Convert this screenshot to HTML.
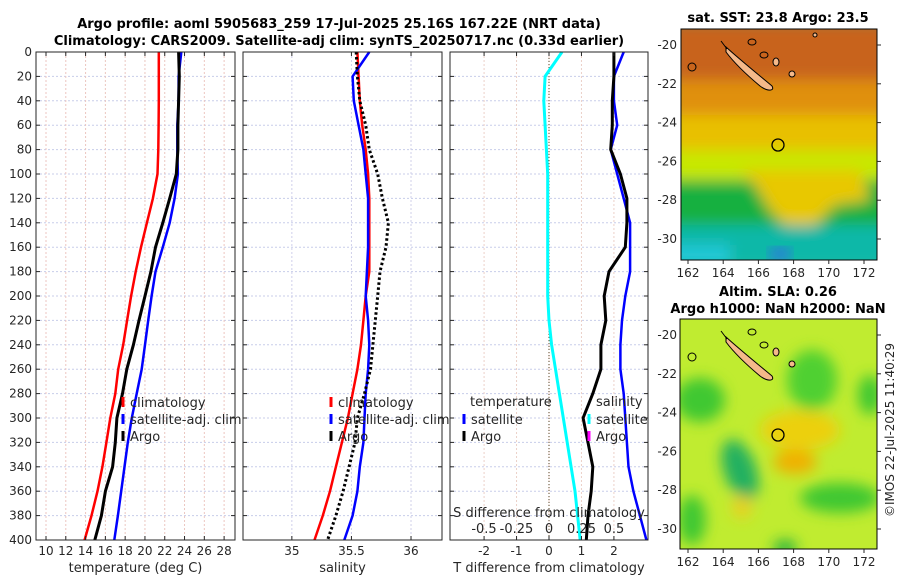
<!DOCTYPE html>
<html><head><meta charset="utf-8"><style>
html,body{margin:0;padding:0;background:#fff;}
svg{display:block;font-family:"DejaVu Sans","Liberation Sans",sans-serif;}
.t{font-size:12px;fill:#262626;}
.b{font-size:13px;font-weight:bold;fill:#000;}
</style></head><body>
<svg id="fig" width="900" height="580" viewBox="0 0 900 580" xmlns="http://www.w3.org/2000/svg">
<defs>
<filter id="bl" x="-20%" y="-20%" width="140%" height="140%"><feGaussianBlur stdDeviation="7"/></filter>
<clipPath id="c1"><rect x="681" y="29" width="196" height="231"/></clipPath>
<clipPath id="c2"><rect x="680" y="319" width="197" height="230"/></clipPath>
</defs>
<text class="b" x="339" y="28" text-anchor="middle">Argo profile: aoml 5905683_259 17-Jul-2025 25.16S 167.22E (NRT data)</text>
<text class="b" x="339" y="45" text-anchor="middle">Climatology: CARS2009. Satellite-adj clim: synTS_20250717.nc (0.33d earlier)</text>

<g id="plots"></g>

<!-- Map 1 -->
<g>
<g clip-path="url(#c1)">
<rect x="681" y="29" width="196" height="231" fill="#20c0a0"/>
<g filter="url(#bl)">
<rect x="670" y="20" width="220" height="70" fill="#c8641e"/>
<rect x="670" y="80" width="220" height="40" fill="#e0900c"/>
<rect x="670" y="115" width="220" height="40" fill="#e8c000"/>
<rect x="670" y="150" width="220" height="35" fill="#c8e800"/>
<rect x="670" y="180" width="220" height="50" fill="#18b040"/>
<path d="M740 170 L860 170 L870 200 L835 205 L815 225 L790 230 L770 210 L755 185 Z" fill="#e8c800"/>
<rect x="670" y="225" width="220" height="40" fill="#10b8a8"/>
<rect x="670" y="245" width="60" height="20" fill="#20c8d8"/>
</g>
<rect x="770" y="248" width="20" height="12" fill="#3070e0" filter="url(#bl)"/>
</g>
<rect x="681" y="29" width="196" height="231" fill="none" stroke="#000" stroke-width="1"/>
<path d="M721 41 L727 49 M726 47 C738 58 760 76 772 86 C775 91 768 92 760 86 C748 76 735 64 726 52 Z" fill="#f5b98a" stroke="#000" stroke-width="1"/>
<ellipse cx="752" cy="42" rx="4" ry="3" fill="none" stroke="#000"/>
<ellipse cx="764" cy="55" rx="4" ry="3" fill="none" stroke="#000"/>
<ellipse cx="776" cy="62" rx="3" ry="4" fill="#f5b98a" stroke="#000"/>
<ellipse cx="692" cy="67" rx="4" ry="4" fill="none" stroke="#000"/>
<ellipse cx="792" cy="74" rx="3" ry="3" fill="#f5b98a" stroke="#000"/>
<ellipse cx="815" cy="35" rx="2" ry="2" fill="#f5b98a" stroke="#000"/>
<circle cx="778" cy="145" r="6" fill="none" stroke="#000" stroke-width="1.3"/>
</g>
<text class="b" x="778" y="22" text-anchor="middle">sat. SST: 23.8 Argo: 23.5</text>

<!-- Map 2 -->
<g>
<g clip-path="url(#c2)">
<rect x="680" y="319" width="197" height="230" fill="#c0ec30"/>
<g filter="url(#bl)">
<ellipse cx="700" cy="400" rx="25" ry="22" fill="#40c830"/>
<ellipse cx="812" cy="380" rx="25" ry="30" fill="#50d030"/>
<ellipse cx="870" cy="395" rx="12" ry="20" fill="#40c830"/>
<ellipse cx="740" cy="470" rx="16" ry="32" fill="#20b060" transform="rotate(-20 740 470)"/>
<ellipse cx="840" cy="498" rx="40" ry="15" fill="#40c830"/>
<ellipse cx="692" cy="520" rx="14" ry="25" fill="#40c830"/>
<ellipse cx="785" cy="548" rx="12" ry="8" fill="#20b040"/>
<ellipse cx="800" cy="430" rx="40" ry="20" fill="#ecd010"/>
<ellipse cx="795" cy="462" rx="22" ry="12" fill="#f0b000"/>
<ellipse cx="742" cy="507" rx="10" ry="12" fill="#e8d020"/>
</g>
</g>
<rect x="680" y="319" width="197" height="230" fill="none" stroke="#000" stroke-width="1"/>
<path d="M721 331 L727 339 M726 337 C738 348 760 366 772 376 C775 381 768 382 760 376 C748 366 735 354 726 342 Z" fill="#f5b98a" stroke="#000" stroke-width="1"/>
<ellipse cx="752" cy="332" rx="4" ry="3" fill="none" stroke="#000"/>
<ellipse cx="764" cy="345" rx="4" ry="3" fill="none" stroke="#000"/>
<ellipse cx="776" cy="352" rx="3" ry="4" fill="#f5b98a" stroke="#000"/>
<ellipse cx="692" cy="357" rx="4" ry="4" fill="none" stroke="#000"/>
<ellipse cx="792" cy="364" rx="3" ry="3" fill="#f5b98a" stroke="#000"/>
<circle cx="778" cy="435" r="6" fill="none" stroke="#000" stroke-width="1.3"/>
</g>
<text class="b" x="778" y="296" text-anchor="middle">Altim. SLA: 0.26</text>
<text class="b" x="778" y="313" text-anchor="middle">Argo h1000: NaN h2000: NaN</text>
<text class="t" x="0" y="0" text-anchor="middle" transform="translate(894 430) rotate(-90)">©IMOS 22-Jul-2025 11:40:29</text>
<g id="maptix"></g>
</svg>
<script>
// depth levels
const depths = [0,20,40,60,80,100,120,140,160,180,200,220,240,260,280,300,320,340,360,380,400];
// temperature (deg C)
const tempClim = [21.4,21.4,21.4,21.38,21.35,21.27,20.8,20.2,19.6,19.07,18.6,18.2,17.8,17.3,17.0,16.5,16.1,15.7,15.2,14.6,13.9];
const tempSat  = [23.67,23.4,23.4,23.27,23.27,23.33,23.0,22.5,21.8,21.07,20.67,20.33,20.0,19.67,19.17,18.67,18.27,17.93,17.6,17.27,16.9];
const tempArgo = [23.4,23.47,23.4,23.33,23.33,23.17,22.5,21.8,21.07,20.6,20.0,19.4,18.83,18.17,17.73,17.17,17.0,16.73,16.0,15.6,14.93];
// salinity
const salClim = [35.55,35.56,35.57,35.59,35.62,35.64,35.65,35.65,35.65,35.65,35.62,35.60,35.58,35.55,35.51,35.47,35.42,35.37,35.32,35.26,35.19];
const salSat  = [35.65,35.51,35.52,35.56,35.60,35.62,35.64,35.64,35.64,35.63,35.62,35.64,35.65,35.64,35.62,35.61,35.60,35.57,35.55,35.51,35.44];
const salArgo = [35.54,35.55,35.57,35.62,35.65,35.72,35.76,35.81,35.79,35.74,35.72,35.70,35.68,35.66,35.61,35.55,35.53,35.48,35.43,35.37,35.30];
// differences
const tDiffSat  = [2.3,2.0,2.0,2.1,1.9,2.1,2.3,2.5,2.5,2.5,2.35,2.25,2.2,2.2,2.3,2.35,2.4,2.45,2.6,2.8,3.0];
const tDiffArgo = [2.0,2.0,1.95,1.95,1.9,2.2,2.4,2.4,2.35,1.85,1.7,1.75,1.6,1.6,1.35,1.05,1.2,1.35,1.3,1.2,1.15];
const sDiffSat  = [0.1,-0.03,-0.04,-0.03,-0.02,-0.01,-0.01,-0.01,-0.01,-0.01,-0.01,0.0,0.02,0.05,0.08,0.11,0.14,0.17,0.2,0.22,0.24];
// ticks
const depthTicks = [0,20,40,60,80,100,120,140,160,180,200,220,240,260,280,300,320,340,360,380,400];
const tempTicks = [10,12,14,16,18,20,22,24,26,28];
const salTicks = [35,35.5,36];
const tdTicks = [-2,-1,0,1,2];
const sdTicks = [-0.5,-0.25,0,0.25,0.5];
const lonTicks = [162,164,166,168,170,172];
const latTicks = [-20,-22,-24,-26,-28,-30];

const NS='http://www.w3.org/2000/svg';
const g=document.getElementById('plots');
function mk(tag,at,parent){const e=document.createElementNS(NS,tag);for(const k in at)e.setAttribute(k,at[k]);(parent||g).appendChild(e);return e;}
const yTop=52,yBot=540;
const yD=d=>yTop+(yBot-yTop)*d/400;
const panels=[
 {x0:36,x1:235,min:8.99,max:29.1},
 {x0:243,x1:442,min:34.59,max:36.26},
 {x0:450,x1:648,min:-3.05,max:3.05}
];
const sx=(p,v)=>p.x0+(p.x1-p.x0)*(v-p.min)/(p.max-p.min);
const sScale=v=>549+130*v;

function grid(p,ticks,vcol){
  depthTicks.forEach(d=>{const l=mk('line',{x1:p.x0,x2:p.x1,y1:yD(d),y2:yD(d),stroke:'#c8cdea','stroke-dasharray':'2,2','stroke-width':1});
    });
  ticks.forEach(t=>{const x=sx(p,t);const l=mk('line',{x1:x,x2:x,y1:yTop,y2:yBot,stroke:vcol,'stroke-dasharray':'2,2','stroke-width':1});
    });
}
function frame(p,ticks,labels,title,name){
  const r=mk('rect',{x:p.x0,y:yTop,width:p.x1-p.x0,height:yBot-yTop,fill:'none',stroke:'#262626','stroke-width':1});
  
  depthTicks.forEach(d=>{mk('line',{x1:p.x0,x2:p.x0+4,y1:yD(d),y2:yD(d),stroke:'#262626'});mk('line',{x1:p.x1,x2:p.x1-4,y1:yD(d),y2:yD(d),stroke:'#262626'});});
  ticks.forEach((t,i)=>{const x=sx(p,t);mk('line',{x1:x,x2:x,y1:yBot,y2:yBot-4,stroke:'#262626'});mk('line',{x1:x,x2:x,y1:yTop,y2:yTop+4,stroke:'#262626'});
    if(labels){const tx=mk('text',{x:x,y:555,'text-anchor':'middle',class:'t'});tx.textContent=labels[i];
      }});
  const tt=mk('text',{x:(p.x0+p.x1)/2,y:572,'text-anchor':'middle',class:'t',style:'font-size:13px'});tt.textContent=title;
  
}
function line(xs,col,w,dash,name){
  const pts=depths.map((d,i)=>xs[i].toFixed(1)+','+yD(d).toFixed(1)).join(' ');
  const a={points:pts,fill:'none',stroke:col,'stroke-width':w,'stroke-linejoin':'round'};
  if(dash)a['stroke-dasharray']=dash;
  const l=mk('polyline',a);
  
  
}
function legend(x,y,col,txt){
  mk('line',{x1:x,x2:x,y1:y-9,y2:y+1,stroke:col,'stroke-width':3});
  const t=mk('text',{x:x+7,y:y+1,class:'t',style:'font-size:13px'});t.textContent=txt;
  
}
const [p1,p2,p3]=panels;
// panel 1
grid(p1,tempTicks,'#ecc6c0');
line(tempClim.map(v=>sx(p1,v)),'#ff0000',2.5,null,'temp-climatology-line');
line(tempSat.map(v=>sx(p1,v)),'#0000ff',2.5,null,'temp-satellite-line');
line(tempArgo.map(v=>sx(p1,v)),'#000',3,null,'temp-argo-line');
frame(p1,tempTicks,tempTicks.map(String),'temperature (deg C)','temperature');
depthTicks.forEach(d=>{const t=mk('text',{x:32,y:yD(d)+4,'text-anchor':'end',class:'t'});t.textContent=d;
  });
legend(123,406,'#ff0000','climatology');legend(123,423,'#0000ff','satellite-adj. clim');legend(123,440,'#000','Argo');
// panel 2
grid(p2,salTicks,'#d0d0ea');
line(salClim.map(v=>sx(p2,v)),'#ff0000',2.5,null,'sal-climatology-line');
line(salSat.map(v=>sx(p2,v)),'#0000ff',2.5,null,'sal-satellite-line');
line(salArgo.map(v=>sx(p2,v)),'#000',3,'2.5,2.5','sal-argo-line');
frame(p2,salTicks,['35','35.5','36'],'salinity','salinity');
legend(331,406,'#ff0000','climatology');legend(331,423,'#0000ff','satellite-adj. clim');legend(331,440,'#000','Argo');
// panel 3
grid(p3,tdTicks,'#ecd0c8');
const z=mk('line',{x1:sx(p3,0),x2:sx(p3,0),y1:yTop,y2:yBot,stroke:'#5a4a2a','stroke-dasharray':'1,2','stroke-width':1});

line(sDiffSat.map(v=>sScale(v)),'#00ffff',3,null,'s-diff-satellite-line');
line(tDiffSat.map(v=>sx(p3,v)),'#0000ff',2.5,null,'t-diff-satellite-line');
line(tDiffArgo.map(v=>sx(p3,v)),'#000',3,null,'t-diff-argo-line');
frame(p3,tdTicks,tdTicks.map(String),'T difference from climatology','t-diff');
sdTicks.forEach(t=>{const tx=mk('text',{x:sScale(t),y:533,'text-anchor':'middle',class:'t',style:'font-size:13px'});tx.textContent=String(t);
  });
const st=mk('text',{x:549,y:517,'text-anchor':'middle',class:'t',style:'font-size:13px'});st.textContent='S difference from climatology';

const lt=mk('text',{x:470,y:406,class:'t',style:'font-size:13px'});lt.textContent='temperature';

const ls=mk('text',{x:596,y:406,class:'t',style:'font-size:13px'});ls.textContent='salinity';

legend(464,423,'#0000ff','satellite');legend(464,440,'#000','Argo');
legend(589,423,'#00ffff','satellite');legend(589,440,'#ff00ff','Argo');

// map ticks
const mt=document.getElementById('maptix');
const lonX=v=>688+(v-162)*17.6;
[[29,260,45],[319,549,335]].forEach(([y0,y1,y20])=>{
  lonTicks.forEach(v=>{const x=lonX(v);mk('line',{x1:x,x2:x,y1:y1,y2:y1+4,stroke:'#262626'},mt);
    const t=mk('text',{x:x,y:y1+17,'text-anchor':'middle',class:'t'},mt);t.textContent=v;
    });
  latTicks.forEach(v=>{const y=y20+(-20-v)*19.4;mk('line',{x1:877,x2:881,y1:y,y2:y,stroke:'#262626'},mt);
    const t=mk('text',{x:677,y:y+4,'text-anchor':'end',class:'t'},mt);t.textContent=v;
    });
});
</script>
</body></html>
